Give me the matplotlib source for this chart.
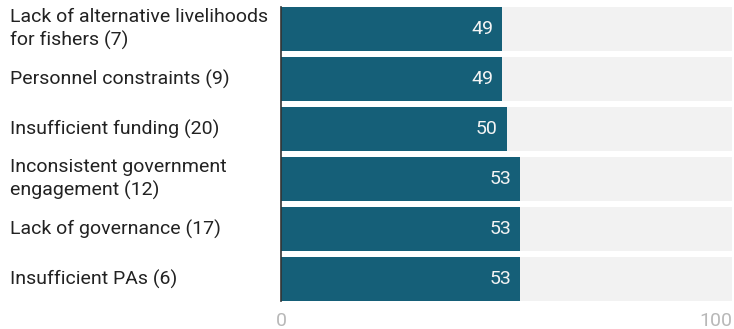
import matplotlib
matplotlib.use("Agg")
import matplotlib.pyplot as plt
import matplotlib.transforms as mtransforms

plt.rcParams['font.family'] = ['Roboto', 'DejaVu Sans']

labels = ["Lack of alternative livelihoods\nfor fishers (7)",
          "Personnel constraints (9)",
          "Insufficient funding (20)",
          "Inconsistent government\nengagement (12)",
          "Lack of governance (17)",
          "Insufficient PAs (6)"]
values = [49, 49, 50, 53, 53, 53]
xmax = 100

W, H = 734, 329
fig = plt.figure(figsize=(W / 100, H / 100), dpi=100)
ax = fig.add_axes([281 / W, (H - 301) / H, (732 - 281) / W, 294 / H])

ypos = list(range(len(labels)))
ax.barh(ypos, [xmax] * len(labels), height=0.88, color='#f2f2f2', zorder=1)
ax.barh(ypos, values, height=0.88, color='#155f78', zorder=2)

for y, v in zip(ypos, values):
    ax.text(v - 1.9, y, str(v), ha='right', va='center', color='#f4f4f4',
            fontsize=14, zorder=3)

trans = mtransforms.blended_transform_factory(fig.transFigure, ax.transData)
for y, lab in zip(ypos, labels):
    ax.text(10 / W, y, lab, transform=trans, ha='left', va='center',
            fontsize=14, color='#222222', linespacing=1.27)

ax.set_xlim(0, xmax)
ax.set_ylim(len(labels) - 0.56, -0.44)
ax.set_yticks([])
ax.set_xticks([0, xmax])
ax.set_xticklabels(['0', str(xmax)], fontsize=14, color='#b8b8b8')
ax.get_xticklabels()[-1].set_ha('right')
ax.tick_params(axis='x', length=0, pad=8)
for s in ['top', 'right', 'bottom']:
    ax.spines[s].set_visible(False)
ax.spines['left'].set_color('#333333')
ax.spines['left'].set_linewidth(1.2)
ax.spines['left'].set_zorder(4)

fig.savefig('out.png', dpi=100)
